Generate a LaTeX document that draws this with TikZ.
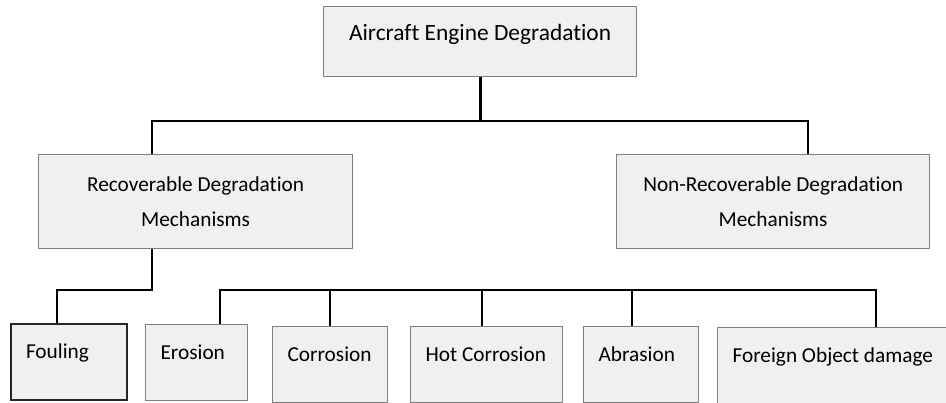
\documentclass[tikz,border=0pt]{standalone}
\usepackage{fontspec}
\setmainfont{Carlito}[Ligatures={NoCommon}]
\usetikzlibrary{calc}
\definecolor{boxFill}{HTML}{F0F0F0}
\definecolor{boxEdge}{HTML}{7F7F7F}

\begin{document}
\begin{tikzpicture}[x=1pt, y=-1pt,
    box/.style={draw=boxEdge, line width=1.2pt, fill=boxFill, inner sep=0pt,
        anchor=north west, font=\fontsize{21.3}{35}\selectfont},
    leaf/.style={box, inner xsep=15pt, text width=#1,
        text height=35pt, text depth=41pt,
        execute at begin node={\spaceskip=0pt\xspaceskip=0pt\hbox\bgroup},
        execute at end node=\egroup},
    link/.style={line width=2.8pt}]
    \useasboundingbox (0,0) rectangle (946,403);
    % top and middle boxes
    \node[box, minimum width=313pt, text height=34pt, text depth=36pt,
        font=\fontsize{23.4}{28}\selectfont] (engine) at (323,6) {Aircraft Engine Degradation};
    \node[box, minimum width=314pt, minimum height=94pt, align=center] (recov) at (38,154)
        {Recoverable Degradation\\Mechanisms};
    \node[box, minimum width=313pt, minimum height=94pt, align=center] (nonrecov) at (616,154)
        {Non-Recoverable Degradation\\Mechanisms};
    % leaves
    \node[leaf=86pt, draw=black!85, line width=2pt] (fouling) at (10,323) {Fouling};
    \node[leaf=72pt] (erosion) at (145,324) {Erosion};
    \node[leaf=85pt] (corrosion) at (272,326) {Corrosion};
    \node[leaf=122pt] (hotcorr) at (410,326) {Hot Corrosion};
    \node[leaf=85pt] (abrasion) at (583,326) {Abrasion};
    \node[leaf=230pt, text depth=60pt] (fod) at (717,327) {Foreign Object damage};
    % connectors
    \coordinate (busL) at (152,121);
    \coordinate (busR) at (808,121);
    \draw[link] (engine.south) -- (engine.south |- busL);
    \draw[link] (recov.north -| busL) |- (busR) -- (nonrecov.north -| busR);
    \coordinate (forkL) at (57,290);
    \draw[link] (recov.south -| busL) |- (forkL) -- (fouling.north -| forkL);
    \coordinate (dropE) at (220,290);
    \coordinate (dropF) at (876,290);
    \draw[link] (erosion.north -| dropE) |- (dropF) -- (fod.north -| dropF);
    \draw[link] (nonrecov.south -| busR) -- (nonrecov.south -| busR |- dropE);
    \foreach \leafname/\x in {corrosion/330, hotcorr/482, abrasion/632} {
        \coordinate (drop) at (\x,290);
        \draw[link] (drop) -- (\leafname.north -| drop);
    }
\end{tikzpicture}
\end{document}
